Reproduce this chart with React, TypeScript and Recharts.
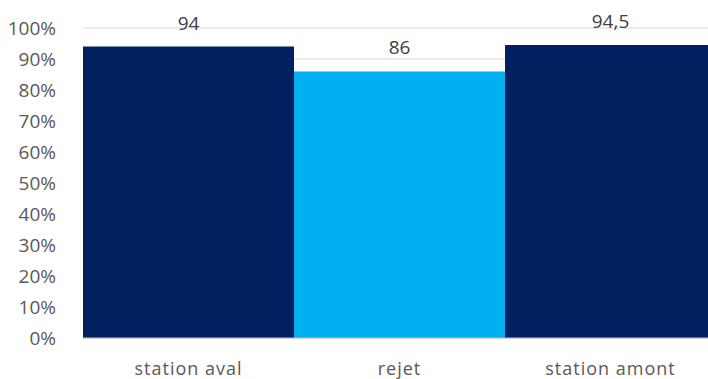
import React from "react";
import { BarChart, Bar, XAxis, YAxis, CartesianGrid, Cell, LabelList } from "recharts";

// Share per sampling point, in percent
const categories = ["station aval", "rejet", "station amont"];
const values = [94, 86, 94.5];
const barColors = ["#002060", "#00B0F0", "#002060"];
const yTicks = [0, 10, 20, 30, 40, 50, 60, 70, 80, 90, 100];

const data = categories.map((name, i) => ({ name, value: values[i] }));

const FONT = "'Open Sans', sans-serif";

export default function App() {
  return (
    <div
      style={{
        position: "absolute",
        left: 0,
        top: 0,
        width: 708,
        height: 379,
        overflow: "hidden",
        background: "#fff",
        fontFamily: FONT,
      }}
    >
      <BarChart
        width={720}
        height={379}
        data={data}
        margin={{ top: 28, right: 4, bottom: 0, left: 0 }}
        barCategoryGap={0}
      >
        <CartesianGrid vertical={false} stroke="#D9D9D9" strokeWidth={1} />
        <XAxis
          dataKey="name"
          height={41}
          tickLine={false}
          axisLine={{ stroke: "#BFBFBF" }}
          tickMargin={18}
          tick={{ fill: "#595959", fontSize: 18, fontFamily: FONT, letterSpacing: 1 }}
        />
        <YAxis
          width={83}
          domain={[0, 100]}
          ticks={yTicks}
          interval={0}
          tickFormatter={(v: number) => `${v}%`}
          axisLine={false}
          tickLine={false}
          tickMargin={21}
          tick={{ fill: "#595959", fontSize: 19, fontFamily: FONT }}
        />
        <Bar dataKey="value" isAnimationActive={false}>
          {data.map((d, i) => (
            <Cell key={d.name} fill={barColors[i]} />
          ))}
          <LabelList
            dataKey="value"
            position="top"
            offset={17}
            formatter={(v: number) => String(v).replace(".", ",")}
            style={{ fill: "#404040", fontSize: 19, fontFamily: FONT }}
          />
        </Bar>
      </BarChart>
    </div>
  );
}
